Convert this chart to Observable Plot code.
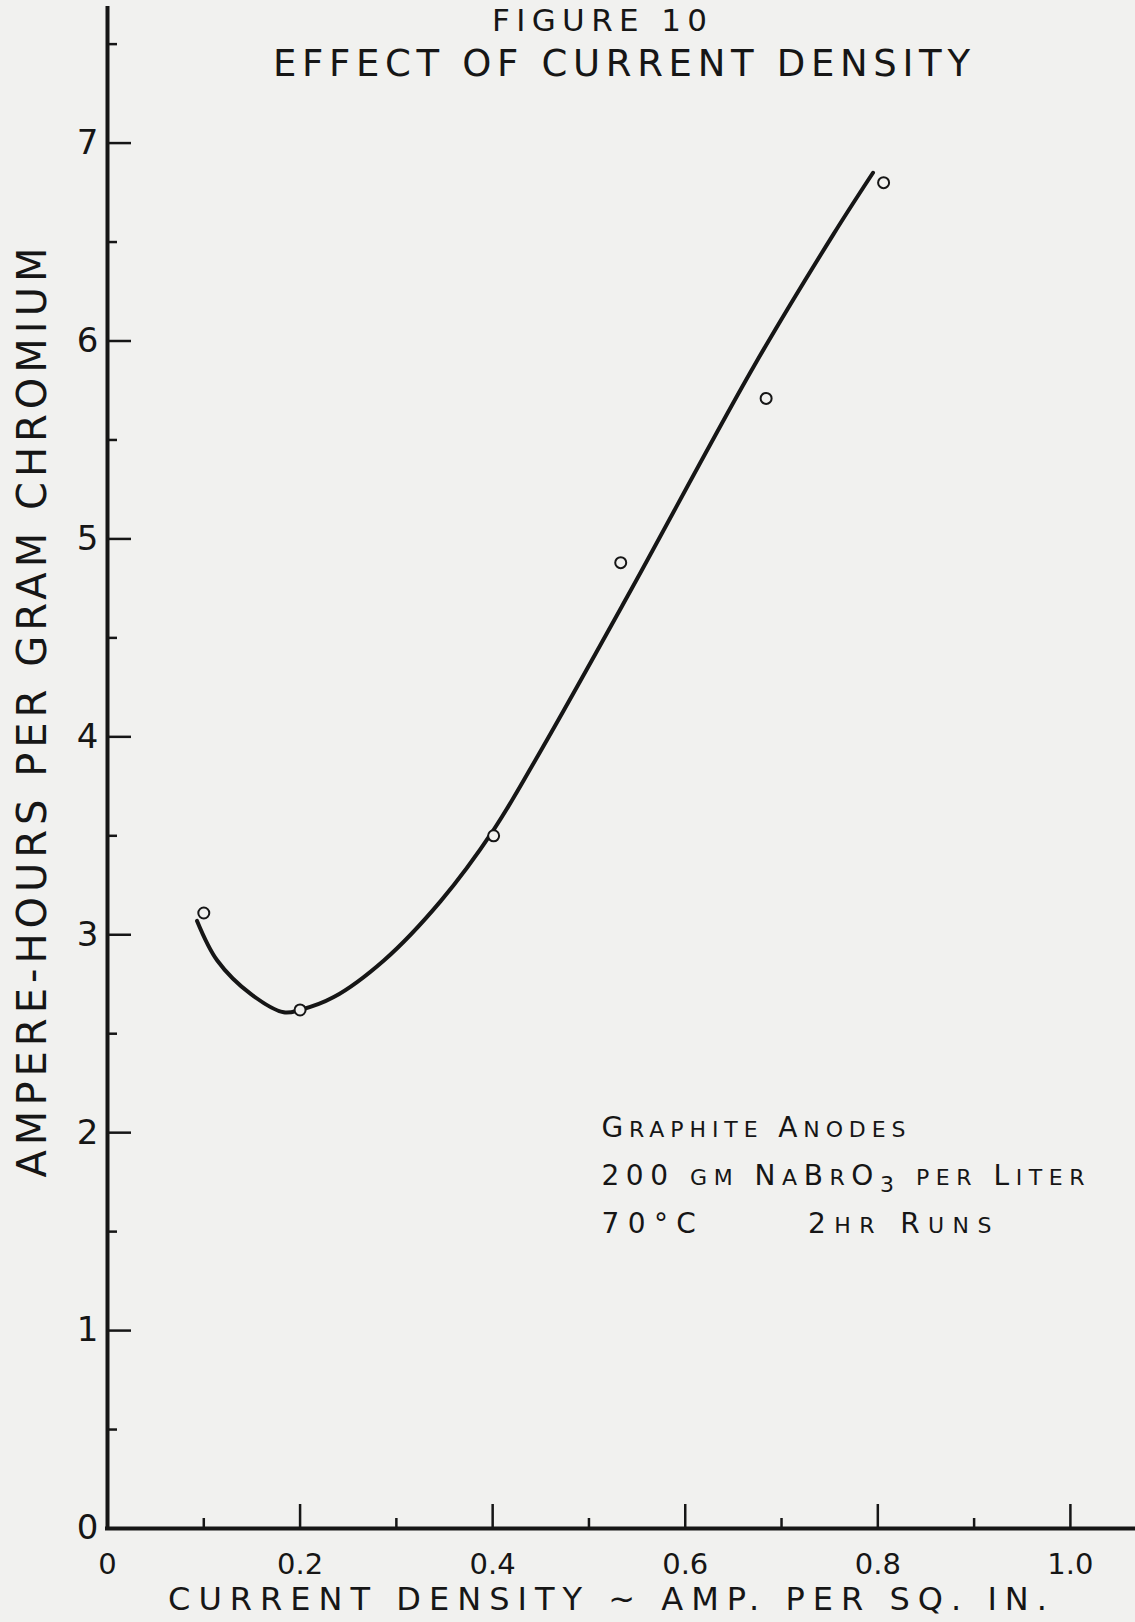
<!DOCTYPE html>
<html><head><meta charset="utf-8">
<script src="https://cdn.jsdelivr.net/npm/d3@7"></script>
<script src="https://cdn.jsdelivr.net/npm/@observablehq/plot@0.6"></script>
<style>html,body{margin:0;padding:0;background:#f1f1ef;} svg{display:block}</style>
</head><body><div id="chart"></div>
<script>
// ---- data ----
const pointX = [0.100, 0.200, 0.401, 0.533, 0.684, 0.806];
const pointY = [3.11, 2.62, 3.50, 4.88, 5.71, 6.80];
const curveX = [0.093, 0.114, 0.149, 0.183, 0.200, 0.235, 0.287, 0.346, 0.401, 0.450, 0.540, 0.671, 0.754, 0.795];
const curveY = [3.07, 2.87, 2.70, 2.608, 2.62, 2.685, 2.87, 3.17, 3.53, 3.93, 4.71, 5.87, 6.54, 6.85];
const xTicks = [0, 0.2, 0.4, 0.6, 0.8, 1.0];
const xTickLabels = ["0", "0.2", "0.4", "0.6", "0.8", "1.0"];
const xMinorTicks = [0.1, 0.3, 0.5, 0.7, 0.9];
const yTicks = [0, 1, 2, 3, 4, 5, 6, 7];
const yTickLabels = ["0", "1", "2", "3", "4", "5", "6", "7"];
const yMinorTicks = [0.5, 1.5, 2.5, 3.5, 4.5, 5.5, 6.5, 7.5];
const titleLines = ["FIGURE 10", "EFFECT OF CURRENT DENSITY"];
const xLabel = "CURRENT DENSITY ~ AMP. PER SQ. IN.";
const yLabel = "AMPERE-HOURS PER GRAM CHROMIUM";
const noteLines = ["Graphite Anodes", "200 gm NaBrO\u2083 per Liter", "70\u00b0C\u00a0\u00a0\u00a0\u00a0\u00a0 2hr Runs"];

// ---- layout ----
const ink = "#161616", paper = "#f1f1ef";
const W = 1135, H = 1622, mL = 107, mR = 0, mT = 8, mB = 94;
const pxX = 962.9;                      // pixels per x unit
const xMax = (W - mL - mR) / pxX;       // axis runs to the right edge
const yMax = 7.68;                      // axis top
const pxY = (H - mT - mB) / yMax;

const points = pointX.map((x, i) => ({x, y: pointY[i]}));
const curve = curveX.map((x, i) => ({x, y: curveY[i]}));
const notes = noteLines.map((t, i) => ({t, i}));

const chart = Plot.plot({
  width: W, height: H,
  marginLeft: mL, marginRight: mR, marginTop: mT, marginBottom: mB,
  x: {domain: [0, xMax], axis: null},
  y: {domain: [0, yMax], axis: null},
  style: {background: paper, fontFamily: "DejaVu Sans", color: ink},
  marks: [
    // axis lines
    Plot.ruleY([0], {stroke: ink, strokeWidth: 4, strokeLinecap: "square"}),
    Plot.ruleX([0], {stroke: ink, strokeWidth: 4, strokeLinecap: "square"}),
    // ticks (drawn inward)
    Plot.ruleX(xTicks.slice(1), {x: d => d, y1: 0, y2: 24 / pxY, stroke: ink, strokeWidth: 2.5}),
    Plot.ruleX(xMinorTicks, {x: d => d, y1: 0, y2: 10 / pxY, stroke: ink, strokeWidth: 2.5}),
    Plot.ruleY(yTicks.slice(1), {y: d => d, x1: 0, x2: 24 / pxX, stroke: ink, strokeWidth: 2.5}),
    Plot.ruleY(yMinorTicks, {y: d => d, x1: 0, x2: 10 / pxX, stroke: ink, strokeWidth: 2.5}),
    // tick labels
    Plot.text(xTicks, {x: d => d, y: 0, text: (d, i) => xTickLabels[i], dy: 45, lineAnchor: "bottom", fontSize: 29, fill: ink}),
    Plot.text(yTicks, {x: 0, y: d => d, text: (d, i) => yTickLabels[i], dx: -20, fontSize: 34, fill: ink}),
    // fitted curve
    Plot.line(curve, {x: "x", y: "y", curve: "catmull-rom", stroke: ink, strokeWidth: 4, strokeLinecap: "round"}),
    // observations
    Plot.dot(points, {x: "x", y: "y", r: 5.5, stroke: ink, strokeWidth: 2, fill: paper}),
    // titles
    Plot.text([titleLines[0]], {text: d => d, frameAnchor: "top", dx: -22, dy: 22, lineAnchor: "bottom", fontSize: 31, fill: ink}),
    Plot.text([titleLines[1]], {text: d => d, frameAnchor: "top", dx: 0, dy: 67, lineAnchor: "bottom", fontSize: 37, fill: ink}),
    Plot.text([xLabel], {text: d => d, frameAnchor: "bottom", dx: -14, dy: 81, lineAnchor: "bottom", fontSize: 32, fill: ink}),
    Plot.text([yLabel], {text: d => d, frameAnchor: "left", rotate: -90, textAnchor: "start", dx: -74, dy: 409, fontSize: 40, fill: ink}),
    // annotation
    Plot.text(notes, {x: 0.513, y: d => 1.976 - d.i * 0.2425, text: "t", textAnchor: "start", lineAnchor: "bottom", fontSize: 28, fill: ink})
  ]
});
document.getElementById("chart").appendChild(chart);

// stretch the hand-lettered lines to the widths of the original lettering
const fit = new Map([
  [titleLines[0], 215], [titleLines[1], 697], [xLabel, 879], [yLabel, 930],
  [noteLines[0], 304], [noteLines[1], 483], [noteLines[2], 390]
]);
const noteSet = new Set(noteLines);
chart.querySelectorAll("text").forEach(t => {
  const content = t.textContent;
  const w = fit.get(content);
  if (w) { t.setAttribute("textLength", w); t.setAttribute("lengthAdjust", "spacing"); }
  if (noteSet.has(content)) {
    // lettering in small capitals: lower-case letters drawn as smaller capitals, the 3 of BrO3 lowered
    const runs = [];
    for (const ch of content) {
      const kind = /[a-z]/.test(ch) ? "small" : ch === "\u2083" ? "sub" : "normal";
      const c = kind === "small" ? ch.toUpperCase() : kind === "sub" ? "3" : ch;
      if (runs.length && runs[runs.length - 1].kind === kind) runs[runs.length - 1].s += c;
      else runs.push({kind, s: c});
    }
    while (t.firstChild) t.removeChild(t.firstChild);
    let shift = 0;
    for (const r of runs) {
      const ts = document.createElementNS("http://www.w3.org/2000/svg", "tspan");
      ts.textContent = r.s;
      const target = r.kind === "sub" ? 7 : 0;
      if (target !== shift) { ts.setAttribute("dy", target - shift); shift = target; }
      if (r.kind !== "normal") ts.setAttribute("font-size", 22);
      t.appendChild(ts);
    }
  }
});
</script>
</body></html>
